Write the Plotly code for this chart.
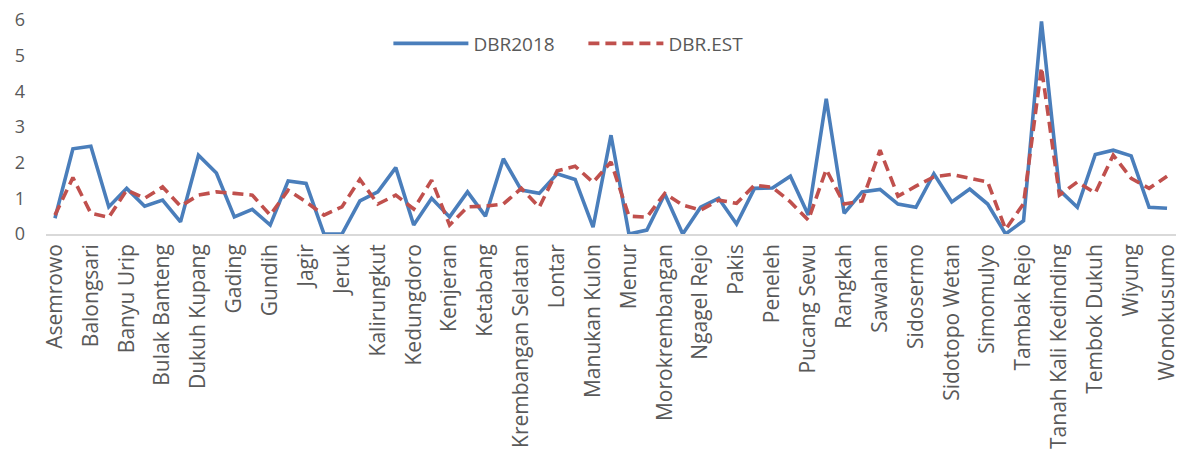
import plotly.graph_objects as go

categories = [
    "Asemrowo", "Balas Klumprik", "Balongsari", "Bangkingan", "Banyu Urip", "Benowo",
    "Bulak Banteng", "Dr. Soetomo", "Dukuh Kupang", "Dupak", "Gading", "Gayungan",
    "Gundih", "Gunung Anyar", "Jagir", "Jemursari", "Jeruk", "Kalijudan",
    "Kalirungkut", "Kebonsari", "Kedungdoro", "Kedurus", "Kenjeran", "Keputih",
    "Ketabang", "Klampis Ngasem", "Krembangan Selatan", "Lidah Kulon", "Lontar", "Made",
    "Manukan Kulon", "Medokan Ayu", "Menur", "Mojo", "Morokrembangan", "Mulyorejo",
    "Ngagel Rejo", "Pacar Keling", "Pakis", "Pegirian", "Peneleh", "Perak Timur",
    "Pucang Sewu", "Putat Jaya", "Rangkah", "Sawah Pulo", "Sawahan", "Sememi",
    "Sidosermo", "Sidotopo", "Sidotopo Wetan", "Simolawang", "Simomulyo", "Siwalankerto",
    "Tambak Rejo", "Tambak Wedi", "Tanah Kali Kedinding", "Tanjungsari", "Tembok Dukuh", "Tenggilis",
    "Wiyung", "Wonokromo", "Wonokusumo",
]

dbr2018 = [
    0.44, 2.39, 2.46, 0.76, 1.28, 0.78, 0.95, 0.34, 2.21, 1.71,
    0.48, 0.69, 0.25, 1.49, 1.42, 0.0, 0.0, 0.93, 1.18, 1.86,
    0.25, 1.0, 0.48, 1.18, 0.5, 2.11, 1.23, 1.14, 1.69, 1.53,
    0.19, 2.77, 0.0, 0.11, 1.12, 0.0, 0.75, 1.0, 0.28, 1.28,
    1.29, 1.62, 0.53, 3.79, 0.58, 1.18, 1.25, 0.84, 0.75, 1.69,
    0.9, 1.26, 0.84, 0.0, 0.37, 5.96, 1.23, 0.75, 2.23, 2.35,
    2.19, 0.75, 0.72,
]

dbr_est = [
    0.53, 1.58, 0.58, 0.47, 1.23, 1.0, 1.32, 0.78, 1.09, 1.18,
    1.14, 1.09, 0.53, 1.23, 0.9, 0.53, 0.76, 1.53, 0.84, 1.09,
    0.7, 1.51, 0.25, 0.76, 0.78, 0.84, 1.28, 0.75, 1.77, 1.9,
    1.45, 2.02, 0.5, 0.47, 1.14, 0.81, 0.67, 0.95, 0.86, 1.37,
    1.31, 0.9, 0.39, 1.81, 0.84, 0.93, 2.35, 1.06, 1.34, 1.6,
    1.67, 1.56, 1.46, 0.13, 0.85, 4.67, 1.09, 1.46, 1.15, 2.21,
    1.56, 1.28, 1.62,
]

y_ticks = [0, 1, 2, 3, 4, 5, 6]

FONT = "Open Sans"
GREY = "#595959"

fig = go.Figure()
fig.add_trace(go.Scatter(
    x=categories, y=dbr2018, mode="lines", name="DBR2018",
    line=dict(color="#4A7EBB", width=3.6),
))
fig.add_trace(go.Scatter(
    x=categories, y=dbr_est, mode="lines", name="DBR.EST",
    line=dict(color="#C0504D", width=3.6, dash="11px,6px"),
))

# page body has an 8px margin, so the figure is sized 8px smaller
fig.update_layout(
    width=1176, height=444,
    margin=dict(l=38, r=8, t=12, b=218),
    plot_bgcolor="white", paper_bgcolor="white",
    font=dict(family=FONT, color=GREY, size=17),
    showlegend=True,
    legend=dict(
        orientation="h", x=0.303, xanchor="left", y=0.89, yanchor="middle",
        font=dict(family=FONT, size=19, color=GREY), bgcolor="rgba(0,0,0,0)",
        entrywidth=105, itemwidth=75,
    ),
)
fig.update_xaxes(
    type="category", categoryorder="array", categoryarray=categories,
    range=[-0.5, len(categories) - 0.5],
    tickmode="array", tickvals=categories[::2], ticktext=categories[::2],
    tickangle=-90, tickfont=dict(family=FONT, size=21, color=GREY),
    showgrid=False, showline=True, linecolor="#D9D9D9", linewidth=1.5,
    ticks="", zeroline=False, automargin=False, ticklabeloverflow="allow",
)
fig.update_yaxes(
    range=[0, 6], tickmode="array", tickvals=y_ticks,
    tickfont=dict(family=FONT, size=18, color=GREY),
    showgrid=False, showline=False, zeroline=False, ticks="",
    ticklabelstandoff=20, automargin=False, ticklabeloverflow="allow",
)

fig.write_html("out.html")
